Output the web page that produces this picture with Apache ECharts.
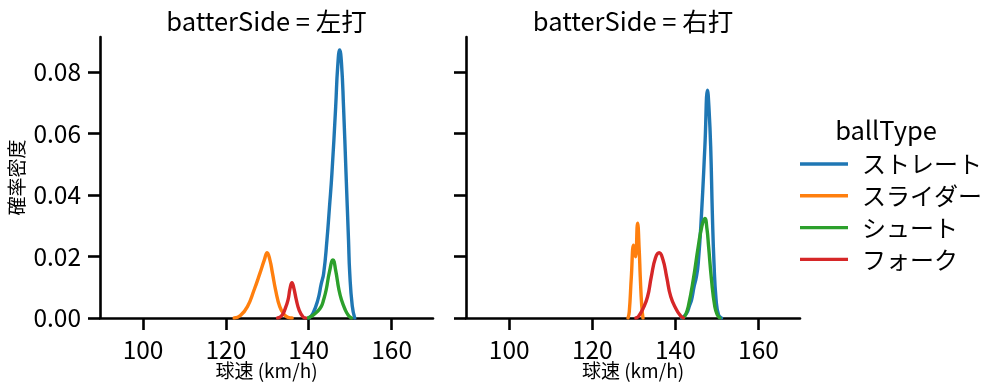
<!DOCTYPE html>
<html>
<head>
<meta charset="utf-8">
<script src="https://cdn.jsdelivr.net/npm/echarts@6/dist/echarts.min.js"></script>
<style>html,body{margin:0;padding:0;background:#fff}#c{width:995px;height:391px}</style>
</head>
<body>
<div id="c"></div>
<script>
const categories = ['ストレート', 'スライダー', 'シュート', 'フォーク'];
const panels = ['左打', '右打'];
const colors = ['#1f77b4', '#ff7f0e', '#2ca02c', '#d62728'];
const xTicks = [100, 120, 140, 160];
const yTicks = [0, 0.02, 0.04, 0.06, 0.08];

// left panel (左打): [speed, density]
const leftStraight = [[140.0,0],[141.0,0.0015],[142.2,0.0059],[143.0,0.011],[143.6,0.0145],[144.4,0.0254],[145.0,0.036],[145.6,0.0471],[146.5,0.0687],[147.0,0.082],[147.47,0.0872],[147.9,0.083],[148.4,0.0687],[149.0,0.0471],[149.6,0.0254],[149.9,0.0145],[150.5,0.004],[151.1,0]];
const leftSlider = [[122.0,0],[123.5,0.0008],[125.2,0.0037],[126.8,0.0091],[128.2,0.0145],[129.3,0.019],[129.95,0.0212],[130.6,0.019],[131.25,0.0145],[132.0,0.0091],[133.0,0.0037],[134.0,0.0012],[135.0,0.0002],[136.0,0]];
const leftShoot = [[139.8,0],[140.6,0.0005],[142.0,0.002],[143.0,0.0037],[143.6,0.006],[144.2,0.0091],[145.0,0.015],[145.86,0.0189],[146.5,0.0155],[147.3,0.0091],[148.0,0.0055],[148.7,0.003],[149.5,0.001],[150.3,0]];
const leftFork = [[132.5,0],[133.5,0.0008],[134.3,0.003],[135.0,0.0059],[135.5,0.0097],[135.95,0.0115],[136.4,0.0097],[137.0,0.0059],[137.7,0.0025],[138.6,0.0004],[139.2,0]];

// right panel (右打)
const rightStraight = [[141.5,0],[142.7,0.0015],[143.4,0.004],[143.9,0.0059],[144.5,0.0102],[145.0,0.013],[145.5,0.0178],[146.3,0.034],[147.1,0.0557],[147.74,0.0741],[148.1,0.068],[148.5,0.0557],[148.9,0.034],[149.3,0.0178],[149.8,0.006],[150.4,0.001],[151.1,0]];
const rightSlider = [[128.6,0],[128.9,0.002],[129.4,0.0134],[129.95,0.0237],[130.4,0.0199],[130.9,0.0308],[131.3,0.022],[131.55,0.0134],[131.9,0.004],[132.2,0]];
const rightShoot = [[141.9,0],[142.5,0.0012],[143.1,0.0037],[144.3,0.0124],[145.5,0.0232],[146.4,0.03],[147.1,0.0324],[147.6,0.029],[148.0,0.0232],[148.7,0.0124],[149.5,0.0037],[150.1,0.001],[150.7,0]];
const rightFork = [[130.5,0],[131.1,0.0005],[132.2,0.003],[133.3,0.0069],[134.2,0.0134],[135.2,0.0195],[136.1,0.0212],[137.0,0.019],[137.9,0.0134],[138.9,0.0069],[140.3,0.0026],[141.2,0.0008],[141.9,0]];

const panelData = [
  [leftStraight, leftSlider, leftShoot, leftFork],
  [rightStraight, rightSlider, rightShoot, rightFork]
];

const FONT = '"Noto Sans CJK JP", "Noto Sans", sans-serif';
const chart = echarts.init(document.getElementById('c'), null, {renderer: 'canvas'});

const grids = [
  {left: 100, top: 37, width: 333, height: 281},
  {left: 466, top: 37, width: 334, height: 281}
];

const axisLine = {show: true, lineStyle: {color: '#000', width: 2.6}};
const xAxes = grids.map((g, i) => ({
  type: 'value', gridIndex: i, min: 89.6, max: 170,
  axisLine: axisLine,
  axisTick: {show: true, length: 12, inside: false, customValues: xTicks, lineStyle: {color: '#000', width: 2.6}},
  axisLabel: {customValues: xTicks, margin: 19, fontSize: 24.5, color: '#000', fontFamily: FONT},
  splitLine: {show: false},
  name: '球速 (km/h)', nameLocation: 'middle', nameGap: 43, nameMoveOverlap: false,
  nameTextStyle: {fontSize: 19, color: '#000', fontFamily: FONT}
}));
const yAxes = grids.map((g, i) => ({
  type: 'value', gridIndex: i, min: 0, max: 0.0914,
  axisLine: axisLine,
  axisTick: {show: true, length: 12, customValues: yTicks, lineStyle: {color: '#000', width: 2.6}},
  axisLabel: {show: i === 0, customValues: yTicks, margin: 19, fontSize: 24.5, color: '#000', fontFamily: FONT,
    formatter: v => v.toFixed(2)},
  splitLine: {show: false},
  name: i === 0 ? '確率密度' : '', nameLocation: 'middle', nameGap: 74, nameRotate: 90,
  nameTextStyle: {fontSize: 19, color: '#000', fontFamily: FONT}
}));

const series = [];
panelData.forEach((arr, p) => {
  arr.forEach((d, k) => {
    series.push({
      type: 'line', name: categories[k], xAxisIndex: p, yAxisIndex: p,
      data: d, showSymbol: false, smooth: 0.5,
      color: colors[k], lineStyle: {width: 3.4, color: colors[k], cap: 'round', join: 'round'}, z: 3 + k
    });
  });
});

chart.setOption({
  animation: false,
  grid: grids,
  xAxis: xAxes,
  yAxis: yAxes,
  legend: {
    data: categories, orient: 'vertical', left: 795, top: 147,
    itemWidth: 48, itemHeight: 3.4, itemGap: 7.8,
    icon: 'rect',
    textStyle: {fontSize: 24, color: '#000', fontFamily: FONT, padding: [0, 0, 0, 9]},
    selectedMode: false
  },
  graphic: [
    {type: 'text', style: {x: 266.5, y: 21, text: 'batterSide = ' + panels[0], fontSize: 25.5, fill: '#000', fontFamily: FONT, textAlign: 'center', textVerticalAlign: 'middle'}},
    {type: 'text', style: {x: 633, y: 21, text: 'batterSide = ' + panels[1], fontSize: 25.5, fill: '#000', fontFamily: FONT, textAlign: 'center', textVerticalAlign: 'middle'}},
    {type: 'text', style: {x: 886, y: 130, text: 'ballType', fontSize: 25.5, fill: '#000', fontFamily: FONT, textAlign: 'center', textVerticalAlign: 'middle'}}
  ],
  series: series
});
</script>
</body>
</html>
